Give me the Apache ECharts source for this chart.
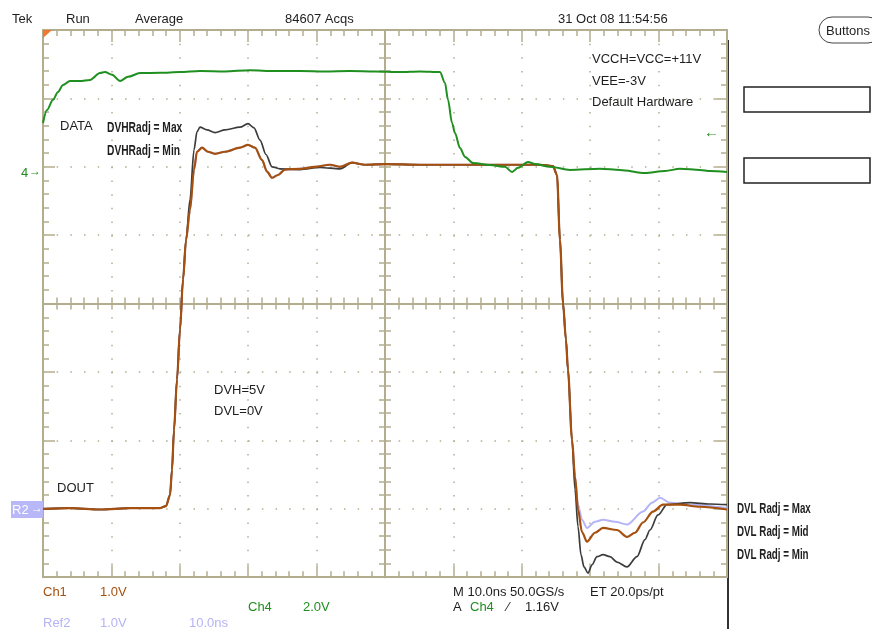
<!DOCTYPE html>
<html>
<head>
<meta charset="utf-8">
<script src="https://cdn.jsdelivr.net/npm/echarts@6/dist/echarts.min.js"></script>
<style>
html,body{margin:0;padding:0;background:#fff;}
#chart{width:872px;height:629px;}
</style>
</head>
<body>
<div id="chart"></div>
<script>
// ---- time axis (ns), 10 ns/div, trigger at centre ----
const timeTicks = [-50, -40, -30, -20, -10, 0, 10, 20, 30, 40, 50];

// ---- Ch1 / Ref traces (volts, 1.0 V/div) ----
const doutLowAndRise = [[-50,0.00],[-46.05,0.01],[-41.67,-0.01],[-37.28,0.01],[-32.89,0.01],[-32.02,0.04],[-31.43,0.20],[-31.14,0.57],[-30.85,1.15],[-30.41,1.89],[-29.97,2.62],[-29.53,3.35],[-29.09,3.93]];
const overshootDvhMin = [[-28.51,4.37],[-27.92,4.96],[-27.49,5.22],[-26.75,5.28],[-25.88,5.22],[-24.85,5.19],[-23.39,5.22],[-21.20,5.28],[-20.03,5.32],[-19.01,5.28],[-17.98,5.10],[-17.25,4.93],[-16.52,4.84],[-15.64,4.88],[-14.62,4.96],[-12.43,4.97],[-10.23,5.00],[-8.04,5.03],[-6.58,5.00]];
const overshootDvhMax = [[-28.51,4.52],[-27.92,5.25],[-27.49,5.51],[-27.05,5.58],[-26.02,5.54],[-24.85,5.50],[-23.39,5.54],[-21.20,5.58],[-20.03,5.63],[-19.15,5.57],[-18.27,5.39],[-17.40,5.18],[-16.52,5.00],[-15.35,4.97],[-12.43,4.96],[-9.50,4.99],[-6.58,4.97]];
const highAndFall = [[-4.82,5.06],[-2.92,5.03],[0,5.04],[5.12,5.03],[12.43,5.03],[18.27,5.03],[22.66,5.03],[24.56,5.01],[25.15,4.88],[25.58,3.93],[26.02,3.01],[26.46,2.47],[26.75,2.03],[27.34,1.01]];
const undershootDvlMid = [[27.78,0.47],[28.22,-0.01],[28.80,-0.34],[29.53,-0.48],[30.70,-0.35],[31.87,-0.28],[33.92,-0.31],[35.38,-0.41],[36.55,-0.35],[37.72,-0.20],[39.18,-0.04],[40.64,0.06],[43.13,0.06],[46.05,0.03],[50,-0.01]];
const undershootDvlMax = [[27.78,0.47],[28.22,0.06],[28.80,-0.16],[29.53,-0.28],[30.70,-0.19],[31.87,-0.16],[33.63,-0.19],[35.38,-0.23],[37.72,-0.04],[39.04,0.09],[40.20,0.16],[41.67,0.09],[44.59,0.06],[50,0.01]];
const undershootDvlMin = [[27.78,0.28],[28.22,-0.26],[28.65,-0.67],[29.09,-0.85],[29.68,-0.94],[30.26,-0.82],[30.99,-0.70],[31.87,-0.67],[32.89,-0.70],[33.92,-0.78],[35.38,-0.85],[36.84,-0.70],[38.01,-0.45],[38.74,-0.31],[39.91,-0.09],[41.23,0.06],[44.59,0.09],[47.51,0.07],[50,0.06]];

// ---- Ch4 DATA trace (volts, 2.0 V/div) ----
const ch4Data = [[-50,1.43],[-49.42,1.81],[-48.54,2.11],[-47.81,2.34],[-47.08,2.54],[-46.05,2.66],[-44.59,2.66],[-43.13,2.69],[-41.67,2.89],[-40.94,2.92],[-39.91,2.84],[-38.74,2.66],[-37.57,2.78],[-35.82,2.89],[-32.89,2.90],[-29.97,2.92],[-27.05,2.95],[-23.39,2.94],[-19.74,2.97],[-16.08,2.95],[-12.43,2.95],[-8.77,2.94],[-5.12,2.95],[-1.46,2.94],[2.19,2.92],[5.12,2.94],[8.04,2.92],[8.77,2.60],[9.21,2.11],[9.80,1.43],[10.23,1.14],[10.96,0.70],[11.70,0.44],[12.87,0.26],[15.35,0.20],[17.54,0.15],[18.57,0.00],[19.44,0.12],[20.91,0.29],[21.93,0.23],[24.12,0.15],[27.05,0.06],[31.43,0.09],[34.36,0.06],[38.01,-0.03],[40.94,0.03],[43.13,0.09],[46.05,0.06],[47.51,0.03],[50,0.00]];

// vertical scale ranges (screen is 8 div high)
const ch1Range = [-1, 7];
const ch4Range = [-11.85, 4.15];
const divRange = [-4, 4];

const ch1Trace  = [].concat(doutLowAndRise, overshootDvhMin, highAndFall, undershootDvlMid);
const ref1Trace = [].concat(doutLowAndRise, overshootDvhMax, highAndFall, undershootDvlMin);
const ref2Trace = [].concat(doutLowAndRise, overshootDvhMin, highAndFall, undershootDvlMax);

const G = '#b3ad8e';
const C_CH1 = '#a5500f', C_CH4 = '#1f8f1f', C_REF1 = '#3c3c3c', C_REF2 = '#b4b4f6';
const FONT = '"Liberation Sans", Arial, sans-serif';

function borderAxis(pos, extra) {
  return Object.assign({
    type: 'value', position: pos, gridIndex: 0,
    axisLine: {show: true, onZero: false, lineStyle: {color: G, width: 2}},
    axisTick: {show: true, inside: true, length: 12, lineStyle: {color: G, width: 1.5}},
    minorTick: {show: true, splitNumber: 5, length: 6, lineStyle: {color: G, width: 1.5}},
    axisLabel: {show: false},
    splitLine: {show: false}
  }, extra);
}
function centerAxis(inside, zeroIdx, extra) {
  return Object.assign({
    type: 'value', gridIndex: 0,
    axisLine: {show: true, onZero: true, onZeroAxisIndex: zeroIdx, lineStyle: {color: G, width: 2}},
    axisTick: {show: true, inside: inside, length: 6, lineStyle: {color: G, width: 1.5}},
    minorTick: {show: true, splitNumber: 5, length: 6, lineStyle: {color: G, width: 1.5}},
    axisLabel: {show: false},
    splitLine: {show: false}
  }, extra);
}
const dotted = {show: true, lineStyle: {color: G, width: 1.5, type: [1.5, 12.18]}};

const xSpec = {min: timeTicks[0], max: timeTicks[timeTicks.length - 1], interval: timeTicks[1] - timeTicks[0]};
const ySpec = {min: ch1Range[0], max: ch1Range[1], interval: 1};

function txt(t, x, y, opt) {
  return {type: 'text', silent: true, z: 100, style: Object.assign({text: t, x: x, y: y, font: '13px ' + FONT, fill: '#1e1e1e', verticalAlign: 'middle'}, opt || {})};
}
function narrow(t, x, y, sx) {
  return {type: 'text', silent: true, z: 100, x: x, y: y, scaleX: sx,
    style: {text: t, x: 0, y: 0, font: 'bold 14px ' + FONT, fill: '#1e1e1e', verticalAlign: 'middle'}};
}

const chart = echarts.init(document.getElementById('chart'), null, {renderer: 'canvas'});
chart.setOption({
  animation: false,
  backgroundColor: '#fff',
  grid: {left: 43, top: 30, width: 684, height: 547.2, containLabel: false},
  xAxis: [
    borderAxis('bottom', Object.assign({splitLine: dotted}, xSpec)),
    borderAxis('top', xSpec),
    centerAxis(true, 3, Object.assign({position: 'bottom'}, xSpec)),
    centerAxis(false, 3, Object.assign({position: 'bottom'}, xSpec))
  ],
  yAxis: [
    borderAxis('left', Object.assign({splitLine: dotted}, ySpec)),
    borderAxis('right', ySpec),
    {type: 'value', min: ch4Range[0], max: ch4Range[1], show: false},
    centerAxis(true, 0, {position: 'left', min: divRange[0], max: divRange[1], interval: 1}),
    centerAxis(false, 0, {position: 'left', min: divRange[0], max: divRange[1], interval: 1})
  ],
  series: [
    {name: 'Ref2', type: 'line', data: ref2Trace, xAxisIndex: 0, yAxisIndex: 0, showSymbol: false, smooth: 0.3, smoothMonotone: 'x', lineStyle: {color: C_REF2, width: 2}, z: 3},
    {name: 'Ref1', type: 'line', data: ref1Trace, xAxisIndex: 0, yAxisIndex: 0, showSymbol: false, smooth: 0.3, smoothMonotone: 'x', lineStyle: {color: C_REF1, width: 1.7}, z: 4},
    {name: 'Ch1', type: 'line', data: ch1Trace, xAxisIndex: 0, yAxisIndex: 0, showSymbol: false, smooth: 0.3, smoothMonotone: 'x', lineStyle: {color: C_CH1, width: 2.2}, z: 5},
    {name: 'Ch4', type: 'line', data: ch4Data, xAxisIndex: 0, yAxisIndex: 2, showSymbol: false, smooth: 0.3, smoothMonotone: 'x', lineStyle: {color: C_CH4, width: 2}, z: 6}
  ],
  graphic: [
    // header
    txt('Tek', 12, 19), txt('Run', 66, 19), txt('Average', 135, 19), txt('84607 Acqs', 285, 19),
    txt('31 Oct 08 11:54:56', 558, 19),
    {type: 'rect', silent: true, shape: {x: 819, y: 17, width: 62, height: 26, r: 13}, style: {fill: 'none', stroke: '#444', lineWidth: 1}},
    txt('Buttons', 826, 31),
    {type: 'rect', silent: true, shape: {x: 744, y: 87, width: 126, height: 25}, style: {fill: 'none', stroke: '#222', lineWidth: 1.5}},
    {type: 'rect', silent: true, shape: {x: 744, y: 158, width: 126, height: 25}, style: {fill: 'none', stroke: '#222', lineWidth: 1.5}},
    {type: 'line', silent: true, shape: {x1: 728, y1: 40, x2: 728, y2: 629}, style: {stroke: '#333', lineWidth: 2}},
    // annotations
    txt('VCCH=VCC=+11V', 592, 59), txt('VEE=-3V', 592, 81), txt('Default Hardware', 592, 102),
    txt('DATA', 60, 126),
    narrow('DVHRadj = Max', 107, 128, 0.73),
    narrow('DVHRadj = Min', 107, 151, 0.73),
    txt('DVH=5V', 214, 390), txt('DVL=0V', 214, 411),
    txt('DOUT', 57, 488),
    narrow('DVL Radj = Max', 737, 509, 0.70),
    narrow('DVL Radj = Mid', 737, 532, 0.70),
    narrow('DVL Radj = Min', 737, 555, 0.70),
    // markers
    {type: 'polygon', silent: true, z: 100, shape: {points: [[43, 30], [52, 30], [43, 38]]}, style: {fill: '#f07830'}},
    txt('4', 21, 173, {fill: C_CH4}),
    txt('\u2192', 29, 172, {fill: C_CH4, font: '12px ' + FONT}),
    txt('\u2190', 704, 133, {fill: C_CH4, font: '15px ' + FONT}),
    {type: 'rect', silent: true, z: 99, shape: {x: 11, y: 501, width: 32, height: 17}, style: {fill: '#b8b8f8'}},
    txt('R2', 12, 510, {fill: '#fff'}),
    txt('\u2192', 31, 509, {fill: '#fff', font: '12px ' + FONT}),
    // footer
    txt('Ch1', 43, 592, {fill: C_CH1}), txt('1.0V', 100, 592, {fill: C_CH1}),
    txt('Ch4', 248, 607, {fill: C_CH4}), txt('2.0V', 303, 607, {fill: C_CH4}),
    txt('Ref2', 43, 623, {fill: C_REF2}), txt('1.0V', 100, 623, {fill: C_REF2}), txt('10.0ns', 189, 623, {fill: C_REF2}),
    txt('M 10.0ns 50.0GS/s', 453, 592), txt('ET 20.0ps/pt', 590, 592),
    txt('A', 453, 607), txt('Ch4', 470, 607, {fill: C_CH4}), txt('\u2044', 507, 607), txt('1.16V', 525, 607)
  ]
});
</script>
</body>
</html>
